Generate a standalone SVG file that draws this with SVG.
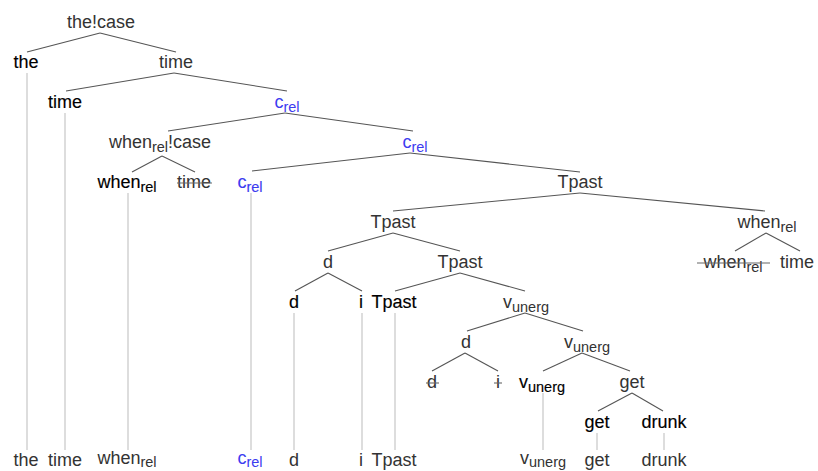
<svg xmlns="http://www.w3.org/2000/svg" width="818" height="471" viewBox="0 0 818 471">
<style>
text{font-family:"Liberation Sans",Arial,Helvetica,sans-serif;font-size:18px;text-anchor:middle;fill:#333}
.lf{fill:#000;stroke:#000;stroke-width:0.15}
.bl{fill:#3c3cf0}
.lf.bl{stroke:#3c3cf0}
.sub{font-size:14.5px}
.e line{stroke:#555;stroke-width:1.1}
.v line{stroke:#ddd;stroke-width:2}
.st{stroke:#666;stroke-width:1.1}
</style>
<rect width="818" height="471" fill="#fff"/>
<g id="traces" class="v">
<line x1="27" y1="73" x2="27" y2="450"/>
<line x1="65" y1="113" x2="65" y2="450"/>
<line x1="128" y1="193" x2="128" y2="450"/>
<line x1="251" y1="193" x2="251" y2="450"/>
<line x1="294" y1="313" x2="294" y2="450"/>
<line x1="362" y1="313" x2="362" y2="450"/>
<line x1="395" y1="313" x2="395" y2="450"/>
<line x1="543" y1="393" x2="543" y2="450"/>
<line x1="597" y1="433" x2="597" y2="450"/>
<line x1="664" y1="433" x2="664" y2="450"/>
</g>
<g id="connectors" class="e">
<line x1="100" y1="33" x2="27" y2="52"/>
<line x1="100" y1="33" x2="176" y2="52"/>
<line x1="174" y1="73" x2="66" y2="91"/>
<line x1="174" y1="73" x2="287" y2="91"/>
<line x1="285" y1="113" x2="168" y2="131"/>
<line x1="285" y1="113" x2="413" y2="131"/>
<line x1="162" y1="156" x2="132" y2="172"/>
<line x1="162" y1="156" x2="195" y2="172"/>
<line x1="410" y1="153" x2="252" y2="171"/>
<line x1="410" y1="153" x2="580" y2="172"/>
<line x1="580" y1="193" x2="393" y2="211"/>
<line x1="580" y1="193" x2="765" y2="211"/>
<line x1="393" y1="233" x2="328" y2="251"/>
<line x1="393" y1="233" x2="460" y2="251"/>
<line x1="766" y1="233" x2="735" y2="251"/>
<line x1="766" y1="233" x2="800" y2="251"/>
<line x1="328" y1="273" x2="295" y2="291"/>
<line x1="328" y1="273" x2="362" y2="291"/>
<line x1="460" y1="273" x2="395" y2="291"/>
<line x1="460" y1="273" x2="525" y2="291"/>
<line x1="525" y1="313" x2="467" y2="331"/>
<line x1="525" y1="313" x2="583" y2="331"/>
<line x1="465" y1="353" x2="432" y2="371"/>
<line x1="465" y1="353" x2="498" y2="371"/>
<line x1="582" y1="353" x2="543" y2="371"/>
<line x1="582" y1="353" x2="630" y2="371"/>
<line x1="632" y1="393" x2="598" y2="411"/>
<line x1="632" y1="393" x2="663" y2="411"/>
</g>
<g id="n-thecase"><text x="101" y="28">the!case</text></g>
<g id="n-the"><text class="lf" x="26" y="68">the</text></g>
<g id="n-time1"><text x="176" y="68">time</text></g>
<g id="n-time2"><text class="lf" x="65" y="108">time</text></g>
<g id="n-crel1"><text class="bl" x="287" y="108">c<tspan class="sub" dy="4">rel</tspan></text></g>
<g id="n-whencase"><text x="160" y="148">when<tspan class="sub" dy="4">rel</tspan><tspan dy="-4">!case</tspan></text></g>
<g id="n-crel2"><text class="bl" x="415" y="148">c<tspan class="sub" dy="4">rel</tspan></text></g>
<g id="n-when1"><text class="lf" x="127" y="188">when<tspan class="sub" dy="4">rel</tspan></text></g>
<g id="n-time3"><text x="194" y="188">time</text><line class="st" x1="177" y1="183" x2="212" y2="183"/></g>
<g id="n-crel3"><text class="lf bl" x="250" y="188">c<tspan class="sub" dy="4">rel</tspan></text></g>
<g id="n-tpast1"><text x="580" y="188">Tpast</text></g>
<g id="n-tpast2"><text x="393" y="228">Tpast</text></g>
<g id="n-when2"><text x="767" y="228">when<tspan class="sub" dy="4">rel</tspan></text></g>
<g id="n-d1"><text x="328" y="268">d</text></g>
<g id="n-tpast3"><text x="460" y="268">Tpast</text></g>
<g id="n-when3"><text x="733" y="268">when<tspan class="sub" dy="4">rel</tspan></text><line class="st" x1="697" y1="263" x2="770" y2="263"/></g>
<g id="n-time4"><text x="797" y="268">time</text></g>
<g id="n-d2"><text class="lf" x="294" y="308">d</text></g>
<g id="n-i1"><text class="lf" x="361" y="308">i</text></g>
<g id="n-tpast4"><text class="lf" x="394" y="308">Tpast</text></g>
<g id="n-vun1"><text x="526" y="308">v<tspan class="sub" dy="4">unerg</tspan></text></g>
<g id="n-d3"><text x="466" y="348">d</text></g>
<g id="n-vun2"><text x="587" y="348">v<tspan class="sub" dy="4">unerg</tspan></text></g>
<g id="n-d4"><text x="432" y="388">d</text><line class="st" x1="426" y1="383" x2="439" y2="383"/></g>
<g id="n-i2"><text x="498" y="388">i</text><line class="st" x1="494" y1="383" x2="502" y2="383"/></g>
<g id="n-vun3"><text class="lf" x="542" y="388">v<tspan class="sub" dy="4">unerg</tspan></text></g>
<g id="n-get1"><text x="632" y="388">get</text></g>
<g id="n-get2"><text class="lf" x="597" y="428">get</text></g>
<g id="n-drunk"><text class="lf" x="664" y="428">drunk</text></g>
<g id="yield">
<text x="26" y="466">the</text>
<text x="65" y="466">time</text>
<text x="127" y="464">when<tspan class="sub" dy="3">rel</tspan></text>
<text class="bl" x="250" y="464">c<tspan class="sub" dy="3">rel</tspan></text>
<text x="294" y="466">d</text>
<text x="361" y="466">i</text>
<text x="394" y="466">Tpast</text>
<text x="543" y="464">v<tspan class="sub" dy="3">unerg</tspan></text>
<text x="597" y="466">get</text>
<text x="664" y="466">drunk</text>
</g>
</svg>
